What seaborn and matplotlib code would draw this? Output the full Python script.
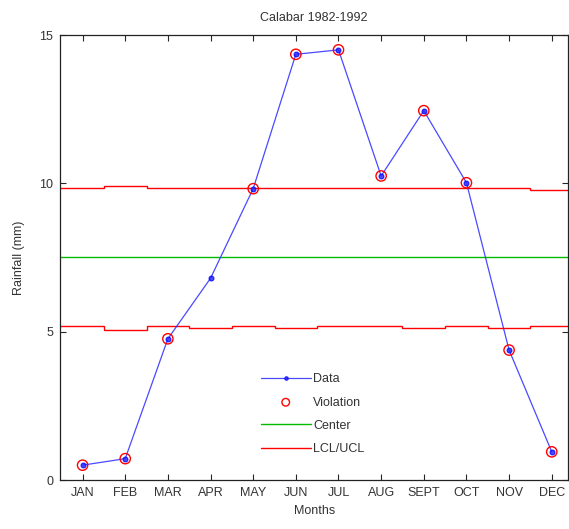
import numpy as np
import pandas as pd
import matplotlib
matplotlib.use("Agg")
import matplotlib.pyplot as plt
import seaborn as sns

months = ["JAN", "FEB", "MAR", "APR", "MAY", "JUN", "JUL", "AUG", "SEPT", "OCT", "NOV", "DEC"]
rainfall = [0.50, 0.72, 4.76, 6.80, 9.82, 14.35, 14.50, 10.25, 12.45, 10.02, 4.38, 0.95]
violation = [True, True, True, False, True, True, True, True, True, True, True, True]
center = [7.52] * 12
ucl = [9.83, 9.92, 9.83, 9.83, 9.83, 9.83, 9.83, 9.83, 9.83, 9.83, 9.83, 9.78]
lcl = [5.18, 5.04, 5.18, 5.14, 5.18, 5.12, 5.18, 5.18, 5.12, 5.18, 5.12, 5.18]

sns.set_theme(style="ticks")
plt.rcParams["font.family"] = ["Liberation Sans", "DejaVu Sans"]
plt.rcParams["font.size"] = 9

df = pd.DataFrame({"x": np.arange(1, 13), "month": months, "rain": rainfall, "viol": violation})

fig = plt.figure(figsize=(5.69, 5.29), dpi=100)
ax = fig.add_axes([0.1054, 0.0926, 0.8935, 0.8412])

xlim = (0.47, 12.39)
edges = np.r_[xlim[0], np.arange(1.5, 12.5), xlim[1]]

sns.lineplot(data=df, x="x", y="rain", ax=ax, color="#2a2aff", lw=0.9,
             marker=".", markersize=7, markeredgecolor="#0000ff", label="Data", alpha=0.85)
sns.scatterplot(data=df[df["viol"]], x="x", y="rain", ax=ax, marker="o", s=55,
                facecolor="none", edgecolor="#ff0000", linewidth=1.0, label="Violation", zorder=4)
ax.stairs(center, edges, color="#00bb00", lw=1.0, label="Center", baseline=None)
ax.stairs(lcl, edges, color="#ff0000", lw=1.0, label="LCL/UCL", baseline=None)
ax.stairs(ucl, edges, color="#ff0000", lw=1.0, baseline=None)

ax.set_xlim(*xlim)
ax.set_ylim(0, 15)
ax.set_xticks(np.arange(1, 13))
ax.set_xticklabels(months)
ax.set_yticks([0, 5, 10, 15])
ax.tick_params(direction="in", length=4, width=0.8, top=True, right=True,
               labelsize=9, labelcolor="#333333", pad=5)
for s in ax.spines.values():
    s.set_visible(True)
    s.set_linewidth(0.9)
    s.set_color("#222222")

ax.set_xlabel("Months", fontsize=9, color="#333333", labelpad=4)
ax.set_ylabel("Rainfall (mm)", fontsize=9, color="#333333", labelpad=10)
ax.set_title("Calabar 1982-1992", fontsize=9, color="#333333", pad=10)

leg = ax.legend(loc="center left", bbox_to_anchor=(0.385, 0.148), frameon=False,
                fontsize=9, handlelength=4.0, handletextpad=0.2, labelspacing=0.9,
                borderaxespad=0)
handles = leg.legend_handles
handles[0].set_markersize(5)
handles[1].set_sizes([30])
for t in leg.get_texts():
    t.set_color("#333333")

fig.savefig("out.png", dpi=100)
